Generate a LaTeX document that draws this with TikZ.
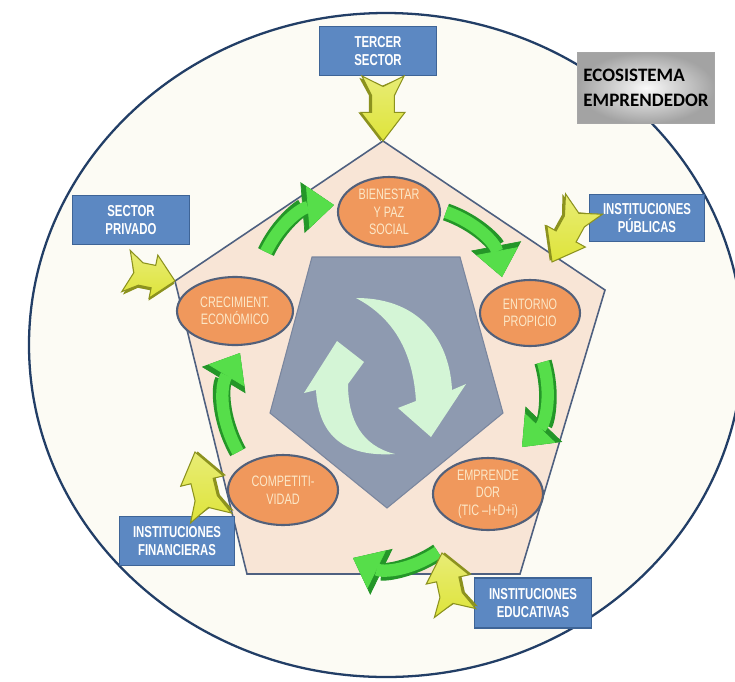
\documentclass[tikz,border=0pt]{standalone}
\usepackage{fontspec}
\setmainfont{Liberation Sans}
\newfontfamily\narrowsans[FakeStretch=0.72]{Liberation Sans}
\newfontfamily\calibrisans{Carlito}
\usetikzlibrary{arrows.meta,shapes.geometric,calc}

\definecolor{ringfill}{RGB}{252,251,244}
\definecolor{ringline}{RGB}{34,62,102}
\definecolor{peach}{RGB}{248,229,214}
\definecolor{pentline}{RGB}{78,96,128}
\definecolor{slate}{RGB}{142,154,176}
\definecolor{slateline}{RGB}{122,134,158}
\definecolor{mint}{RGB}{212,245,214}
\definecolor{orangefill}{RGB}{240,152,92}
\definecolor{orangeline}{RGB}{82,96,122}
\definecolor{creamtext}{RGB}{252,232,200}
\definecolor{boxfill}{RGB}{92,136,194}
\definecolor{boxline}{RGB}{62,100,150}
\definecolor{arrowyellow}{RGB}{222,228,58}
\definecolor{arrowolive}{RGB}{140,146,30}
\definecolor{greenmain}{RGB}{86,222,74}
\definecolor{greendark}{RGB}{36,150,40}

\tikzset{
  actor/.style={draw=boxline, line width=0.9pt, fill=boxfill, text=white,
    font=\narrowsans\bfseries\fontsize{9}{10.5}\selectfont, align=center, inner sep=0pt},
  phase/.style={ellipse, draw=orangeline, line width=1.2pt, fill=orangefill,
    text=creamtext, font=\narrowsans\fontsize{8.6}{10}\selectfont, align=center, inner sep=0pt},
  feedin/.style={draw=arrowolive, line width=0.6pt,
    top color=arrowyellow!70!white, bottom color=arrowyellow},
  cycleback/.style={draw=greendark, line width=10pt,
    -{Triangle[length=18pt,width=29pt,line width=0.4pt]}},
  cyclefront/.style={draw=greenmain, line width=7pt,
    -{Triangle[length=15pt,width=24pt,line width=0.4pt]}},
}

% yellow block arrow from #1 (tail) to #2 (tip)
\newcommand{\feedarrow}[2]{%
  \path let \p1=(#1), \p2=(#2) in \pgfextra{%
    \pgfmathparse{atan2(\y2-\y1,\x2-\x1)}\xdef\faang{\pgfmathresult}%
    \pgfmathparse{veclen(\x2-\x1,\y2-\y1)}\xdef\falen{\pgfmathresult}%
    \pgfmathparse{0.3*\falen}\xdef\faneck{\pgfmathresult}%
    \pgfmathparse{0.56*\falen}\xdef\fahead{\pgfmathresult}%
    \pgfmathparse{0.16*\falen}\xdef\fanotch{\pgfmathresult}};
  \begin{scope}[shift={(#1)}, rotate=\faang]
    \fill[arrowolive] (1pt,10.5pt) -- (\faneck pt,5pt) -- (\fahead pt,5pt)
      -- (\fahead pt,11pt) -- (\falen pt,-1.5pt) -- (\fahead pt,-14pt)
      -- (\fahead pt,-8pt) -- (\faneck pt,-8pt) -- (1pt,-13.5pt)
      -- (\fanotch pt,-1.5pt) -- cycle;
    \draw[feedin] (0pt,12pt) -- (\faneck pt,6.5pt) -- (\fahead pt,6.5pt)
      -- (\fahead pt,12.5pt) -- (\falen pt,0pt) -- (\fahead pt,-12.5pt)
      -- (\fahead pt,-6.5pt) -- (\faneck pt,-6.5pt) -- (0pt,-12pt)
      -- (\fanotch pt,0pt) -- cycle;
  \end{scope}}

\begin{document}
\begin{tikzpicture}[x=0.02cm, y=-0.02cm]
    \useasboundingbox (0,0) rectangle (735,681);

    \fill[white] (0,0) rectangle (735,681);
    \draw[fill=ringfill, draw=ringline, line width=1.3pt] (386,345) ellipse (357 and 332);

    % outer pentagon
    \coordinate (ptop) at (383,141);
    \coordinate (pright) at (605,290);
    \coordinate (pbr) at (520,574);
    \coordinate (pbl) at (247,574);
    \coordinate (pleft) at (175,281);
    \draw[fill=peach, draw=pentline, line width=0.9pt]
        (ptop) -- (pright) -- (pbr) -- (pbl) -- (pleft) -- cycle;

    % inner pentagon with the two turning arrows
    \draw[fill=slate, draw=slateline, line width=0.6pt]
        (312,257) -- (460,257) -- (503,413) -- (387,508) -- (270,413) -- cycle;
    \fill[mint] (356,298) .. controls (424,298) and (450,345) .. (452,390)
        -- (466,384) -- (431,437) -- (398,408) -- (416,401)
        .. controls (413,352) and (394,318) .. (356,298) -- cycle;
    \fill[mint] (395,454) .. controls (334,458) and (318,425) .. (316,390)
        -- (304,393) -- (337,341) -- (364,362) -- (348,384)
        .. controls (348,420) and (362,446) .. (395,454) -- cycle;

    % stages
    \node[phase, minimum width=2.04cm, minimum height=1.40cm] (bien) at (389,212) {BIENESTAR\\Y PAZ\\SOCIAL};
    \node[phase, minimum width=2.00cm, minimum height=1.32cm] (ent) at (530,313) {ENTORNO\\PROPICIO};
    \node[phase, minimum width=2.20cm, minimum height=1.44cm] (empr) at (488,494) {EMPRENDE\\DOR\\(TIC –I+D+i)};
    \node[phase, minimum width=2.20cm, minimum height=1.40cm] (comp) at (283,490) {COMPETITI-\\VIDAD};
    \node[phase, minimum width=2.32cm, minimum height=1.36cm] (crec) at (235,311) {CRECIMIENT.\\ECONÓMICO};

    % green cycle arrows
    \coordinate (g1a) at (266,252); \coordinate (g1b) at (334,205);
    \coordinate (g2a) at (446,212); \coordinate (g2b) at (502,277);
    \coordinate (g3a) at (543,362); \coordinate (g3b) at (522,447);
    \coordinate (g4a) at (438,552); \coordinate (g4b) at (353,558);
    \coordinate (g5a) at (238,452); \coordinate (g5b) at (240,353);
    \foreach \s/\e in {g1a/g1b, g2a/g2b, g3a/g3b, g4a/g4b, g5a/g5b} {
        \draw[cycleback] (\s) to[bend left=30] (\e);
        \draw[cyclefront] (\s) to[bend left=30] (\e);
    }

    % actors
    \node[actor, minimum width=2.34cm, minimum height=0.98cm] (tercer) at (378,51) {TERCER\\SECTOR};
    \node[actor, minimum width=2.34cm, minimum height=0.98cm] (privado) at (131,220) {SECTOR\\PRIVADO};
    \node[actor, minimum width=2.30cm, minimum height=0.94cm] (publicas) at (647,218) {INSTITUCIONES\\PÚBLICAS};
    \node[actor, minimum width=2.30cm, minimum height=0.98cm] (financieras) at (177,541) {INSTITUCIONES\\FINANCIERAS};
    \node[actor, minimum width=2.34cm, minimum height=1.00cm] (educativas) at (533,603) {INSTITUCIONES\\EDUCATIVAS};

    \node[draw=gray!70, line width=0.5pt, inner color=gray!4, outer color=gray!72,
        minimum width=2.74cm, minimum height=1.42cm, align=left,
        font=\calibrisans\bfseries\fontsize{10.8}{14}\selectfont] (eco) at (646,88)
        {ECOSISTEMA\\EMPRENDEDOR};

    % feeding arrows
    \coordinate (yter) at (383,76);
    \coordinate (ypri) at (126,271);
    \coordinate (ypub) at (584,204); \coordinate (ypubt) at (552,262);
    \coordinate (yfin) at (211,518); \coordinate (yfint) at (195,452);
    \coordinate (yedu) at (455,613); \coordinate (yedut) at (442,553);
    \feedarrow{yter}{ptop}
    \feedarrow{ypri}{pleft}
    \feedarrow{ypub}{ypubt}
    \feedarrow{yfin}{yfint}
    \feedarrow{yedu}{yedut}
\end{tikzpicture}
\end{document}
